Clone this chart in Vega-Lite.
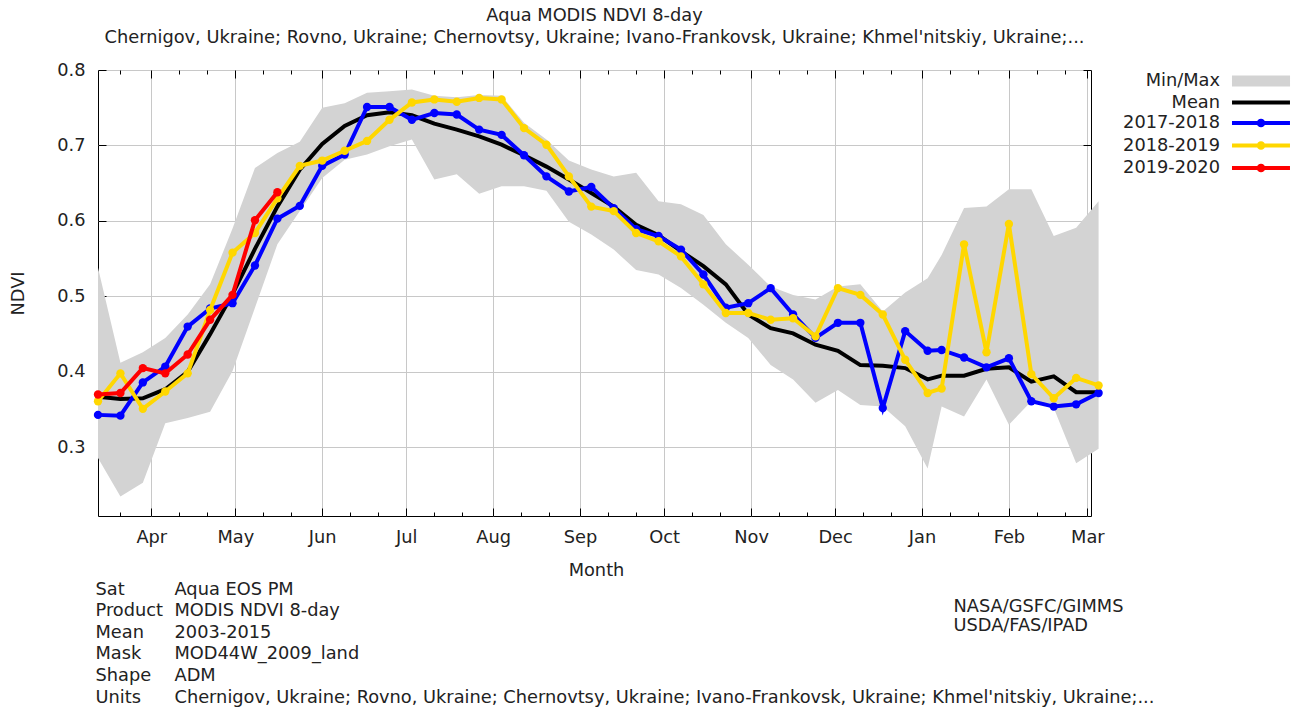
{
  "$schema": "https://vega.github.io/schema/vega-lite/v6.json",
  "width": 993,
  "height": 446,
  "autosize": "none",
  "padding": {"left": 98, "top": 70, "right": 206, "bottom": 192},
  "background": "white",
  "title": {
    "text": "Aqua MODIS NDVI 8-day",
    "subtitle": "Chernigov, Ukraine; Rovno, Ukraine; Chernovtsy, Ukraine; Ivano-Frankovsk, Ukraine; Khmel'nitskiy, Ukraine;...",
    "font": "DejaVu Sans", "subtitleFont": "DejaVu Sans",
    "fontSize": 17.8, "subtitleFontSize": 17.8,
    "fontWeight": "normal", "color": "#222", "subtitleColor": "#222",
    "anchor": "middle", "offset": 14, "subtitlePadding": 4
  },
  "datasets": {
    "stats": [
      {"date": "2017-03-13", "lo": 0.286, "hi": 0.538, "mean": 0.367},
      {"date": "2017-03-21", "lo": 0.235, "hi": 0.412, "mean": 0.364},
      {"date": "2017-03-29", "lo": 0.253, "hi": 0.426, "mean": 0.365},
      {"date": "2017-04-06", "lo": 0.332, "hi": 0.445, "mean": 0.377},
      {"date": "2017-04-14", "lo": 0.339, "hi": 0.476, "mean": 0.400},
      {"date": "2017-04-22", "lo": 0.347, "hi": 0.516, "mean": 0.450},
      {"date": "2017-04-30", "lo": 0.401, "hi": 0.590, "mean": 0.503},
      {"date": "2017-05-08", "lo": 0.485, "hi": 0.670, "mean": 0.563},
      {"date": "2017-05-16", "lo": 0.569, "hi": 0.690, "mean": 0.619},
      {"date": "2017-05-24", "lo": 0.613, "hi": 0.705, "mean": 0.668},
      {"date": "2017-06-01", "lo": 0.657, "hi": 0.750, "mean": 0.702},
      {"date": "2017-06-09", "lo": 0.681, "hi": 0.756, "mean": 0.726},
      {"date": "2017-06-17", "lo": 0.688, "hi": 0.770, "mean": 0.740},
      {"date": "2017-06-25", "lo": 0.699, "hi": 0.772, "mean": 0.744},
      {"date": "2017-07-03", "lo": 0.708, "hi": 0.774, "mean": 0.740},
      {"date": "2017-07-11", "lo": 0.655, "hi": 0.766, "mean": 0.729},
      {"date": "2017-07-19", "lo": 0.662, "hi": 0.764, "mean": 0.721},
      {"date": "2017-07-27", "lo": 0.636, "hi": 0.767, "mean": 0.712},
      {"date": "2017-08-04", "lo": 0.646, "hi": 0.766, "mean": 0.701},
      {"date": "2017-08-12", "lo": 0.646, "hi": 0.730, "mean": 0.687},
      {"date": "2017-08-20", "lo": 0.640, "hi": 0.708, "mean": 0.672},
      {"date": "2017-08-28", "lo": 0.599, "hi": 0.680, "mean": 0.655},
      {"date": "2017-09-05", "lo": 0.582, "hi": 0.668, "mean": 0.637},
      {"date": "2017-09-13", "lo": 0.562, "hi": 0.659, "mean": 0.619},
      {"date": "2017-09-21", "lo": 0.535, "hi": 0.664, "mean": 0.595},
      {"date": "2017-09-29", "lo": 0.529, "hi": 0.626, "mean": 0.581},
      {"date": "2017-10-07", "lo": 0.511, "hi": 0.622, "mean": 0.560},
      {"date": "2017-10-15", "lo": 0.489, "hi": 0.608, "mean": 0.540},
      {"date": "2017-10-23", "lo": 0.465, "hi": 0.569, "mean": 0.516},
      {"date": "2017-10-31", "lo": 0.445, "hi": 0.542, "mean": 0.476},
      {"date": "2017-11-08", "lo": 0.409, "hi": 0.513, "mean": 0.458},
      {"date": "2017-11-16", "lo": 0.390, "hi": 0.502, "mean": 0.451},
      {"date": "2017-11-24", "lo": 0.359, "hi": 0.496, "mean": 0.436},
      {"date": "2017-12-02", "lo": 0.376, "hi": 0.513, "mean": 0.428},
      {"date": "2017-12-10", "lo": 0.356, "hi": 0.516, "mean": 0.409},
      {"date": "2017-12-18", "lo": 0.354, "hi": 0.480, "mean": 0.408},
      {"date": "2017-12-26", "lo": 0.328, "hi": 0.505, "mean": 0.405},
      {"date": "2018-01-03", "lo": 0.272, "hi": 0.524, "mean": 0.390},
      {"date": "2018-01-08", "lo": 0.354, "hi": 0.555, "mean": 0.395},
      {"date": "2018-01-16", "lo": 0.341, "hi": 0.617, "mean": 0.395},
      {"date": "2018-01-24", "lo": 0.390, "hi": 0.619, "mean": 0.404},
      {"date": "2018-02-01", "lo": 0.330, "hi": 0.642, "mean": 0.406},
      {"date": "2018-02-09", "lo": 0.361, "hi": 0.642, "mean": 0.387},
      {"date": "2018-02-17", "lo": 0.352, "hi": 0.580, "mean": 0.394},
      {"date": "2018-02-25", "lo": 0.279, "hi": 0.591, "mean": 0.373},
      {"date": "2018-03-05", "lo": 0.298, "hi": 0.626, "mean": 0.373}
    ],
    "series": [
      {"date": "2017-03-13", "season": "2017-2018", "ndvi": 0.343},
      {"date": "2017-03-21", "season": "2017-2018", "ndvi": 0.342},
      {"date": "2017-03-29", "season": "2017-2018", "ndvi": 0.386},
      {"date": "2017-04-06", "season": "2017-2018", "ndvi": 0.407},
      {"date": "2017-04-14", "season": "2017-2018", "ndvi": 0.460},
      {"date": "2017-04-22", "season": "2017-2018", "ndvi": 0.484},
      {"date": "2017-04-30", "season": "2017-2018", "ndvi": 0.491},
      {"date": "2017-05-08", "season": "2017-2018", "ndvi": 0.541},
      {"date": "2017-05-16", "season": "2017-2018", "ndvi": 0.603},
      {"date": "2017-05-24", "season": "2017-2018", "ndvi": 0.620},
      {"date": "2017-06-01", "season": "2017-2018", "ndvi": 0.673},
      {"date": "2017-06-09", "season": "2017-2018", "ndvi": 0.688},
      {"date": "2017-06-17", "season": "2017-2018", "ndvi": 0.751},
      {"date": "2017-06-25", "season": "2017-2018", "ndvi": 0.751},
      {"date": "2017-07-03", "season": "2017-2018", "ndvi": 0.734},
      {"date": "2017-07-11", "season": "2017-2018", "ndvi": 0.743},
      {"date": "2017-07-19", "season": "2017-2018", "ndvi": 0.741},
      {"date": "2017-07-27", "season": "2017-2018", "ndvi": 0.721},
      {"date": "2017-08-04", "season": "2017-2018", "ndvi": 0.714},
      {"date": "2017-08-12", "season": "2017-2018", "ndvi": 0.687},
      {"date": "2017-08-20", "season": "2017-2018", "ndvi": 0.659},
      {"date": "2017-08-28", "season": "2017-2018", "ndvi": 0.639},
      {"date": "2017-09-05", "season": "2017-2018", "ndvi": 0.645},
      {"date": "2017-09-13", "season": "2017-2018", "ndvi": 0.617},
      {"date": "2017-09-21", "season": "2017-2018", "ndvi": 0.589},
      {"date": "2017-09-29", "season": "2017-2018", "ndvi": 0.580},
      {"date": "2017-10-07", "season": "2017-2018", "ndvi": 0.562},
      {"date": "2017-10-15", "season": "2017-2018", "ndvi": 0.529},
      {"date": "2017-10-23", "season": "2017-2018", "ndvi": 0.485},
      {"date": "2017-10-31", "season": "2017-2018", "ndvi": 0.491},
      {"date": "2017-11-08", "season": "2017-2018", "ndvi": 0.511},
      {"date": "2017-11-16", "season": "2017-2018", "ndvi": 0.476},
      {"date": "2017-11-24", "season": "2017-2018", "ndvi": 0.445},
      {"date": "2017-12-02", "season": "2017-2018", "ndvi": 0.465},
      {"date": "2017-12-10", "season": "2017-2018", "ndvi": 0.465},
      {"date": "2017-12-18", "season": "2017-2018", "ndvi": 0.352},
      {"date": "2017-12-26", "season": "2017-2018", "ndvi": 0.454},
      {"date": "2018-01-03", "season": "2017-2018", "ndvi": 0.428},
      {"date": "2018-01-08", "season": "2017-2018", "ndvi": 0.429},
      {"date": "2018-01-16", "season": "2017-2018", "ndvi": 0.419},
      {"date": "2018-01-24", "season": "2017-2018", "ndvi": 0.406},
      {"date": "2018-02-01", "season": "2017-2018", "ndvi": 0.418},
      {"date": "2018-02-09", "season": "2017-2018", "ndvi": 0.361},
      {"date": "2018-02-17", "season": "2017-2018", "ndvi": 0.354},
      {"date": "2018-02-25", "season": "2017-2018", "ndvi": 0.357},
      {"date": "2018-03-05", "season": "2017-2018", "ndvi": 0.372},
      {"date": "2017-03-13", "season": "2018-2019", "ndvi": 0.361},
      {"date": "2017-03-21", "season": "2018-2019", "ndvi": 0.398},
      {"date": "2017-03-29", "season": "2018-2019", "ndvi": 0.351},
      {"date": "2017-04-06", "season": "2018-2019", "ndvi": 0.374},
      {"date": "2017-04-14", "season": "2018-2019", "ndvi": 0.398},
      {"date": "2017-04-22", "season": "2018-2019", "ndvi": 0.482},
      {"date": "2017-04-30", "season": "2018-2019", "ndvi": 0.558},
      {"date": "2017-05-08", "season": "2018-2019", "ndvi": 0.584},
      {"date": "2017-05-16", "season": "2018-2019", "ndvi": 0.630},
      {"date": "2017-05-24", "season": "2018-2019", "ndvi": 0.673},
      {"date": "2017-06-01", "season": "2018-2019", "ndvi": 0.680},
      {"date": "2017-06-09", "season": "2018-2019", "ndvi": 0.693},
      {"date": "2017-06-17", "season": "2018-2019", "ndvi": 0.706},
      {"date": "2017-06-25", "season": "2018-2019", "ndvi": 0.734},
      {"date": "2017-07-03", "season": "2018-2019", "ndvi": 0.757},
      {"date": "2017-07-11", "season": "2018-2019", "ndvi": 0.761},
      {"date": "2017-07-19", "season": "2018-2019", "ndvi": 0.758},
      {"date": "2017-07-27", "season": "2018-2019", "ndvi": 0.763},
      {"date": "2017-08-04", "season": "2018-2019", "ndvi": 0.761},
      {"date": "2017-08-12", "season": "2018-2019", "ndvi": 0.723},
      {"date": "2017-08-20", "season": "2018-2019", "ndvi": 0.701},
      {"date": "2017-08-28", "season": "2018-2019", "ndvi": 0.659},
      {"date": "2017-09-05", "season": "2018-2019", "ndvi": 0.619},
      {"date": "2017-09-13", "season": "2018-2019", "ndvi": 0.613},
      {"date": "2017-09-21", "season": "2018-2019", "ndvi": 0.584},
      {"date": "2017-09-29", "season": "2018-2019", "ndvi": 0.573},
      {"date": "2017-10-07", "season": "2018-2019", "ndvi": 0.553},
      {"date": "2017-10-15", "season": "2018-2019", "ndvi": 0.516},
      {"date": "2017-10-23", "season": "2018-2019", "ndvi": 0.478},
      {"date": "2017-10-31", "season": "2018-2019", "ndvi": 0.478},
      {"date": "2017-11-08", "season": "2018-2019", "ndvi": 0.469},
      {"date": "2017-11-16", "season": "2018-2019", "ndvi": 0.471},
      {"date": "2017-11-24", "season": "2018-2019", "ndvi": 0.447},
      {"date": "2017-12-02", "season": "2018-2019", "ndvi": 0.511},
      {"date": "2017-12-10", "season": "2018-2019", "ndvi": 0.502},
      {"date": "2017-12-18", "season": "2018-2019", "ndvi": 0.476},
      {"date": "2017-12-26", "season": "2018-2019", "ndvi": 0.416},
      {"date": "2018-01-03", "season": "2018-2019", "ndvi": 0.372},
      {"date": "2018-01-08", "season": "2018-2019", "ndvi": 0.378},
      {"date": "2018-01-16", "season": "2018-2019", "ndvi": 0.569},
      {"date": "2018-01-24", "season": "2018-2019", "ndvi": 0.426},
      {"date": "2018-02-01", "season": "2018-2019", "ndvi": 0.596},
      {"date": "2018-02-09", "season": "2018-2019", "ndvi": 0.397},
      {"date": "2018-02-17", "season": "2018-2019", "ndvi": 0.365},
      {"date": "2018-02-25", "season": "2018-2019", "ndvi": 0.392},
      {"date": "2018-03-05", "season": "2018-2019", "ndvi": 0.382},
      {"date": "2017-03-13", "season": "2019-2020", "ndvi": 0.370},
      {"date": "2017-03-21", "season": "2019-2020", "ndvi": 0.372},
      {"date": "2017-03-29", "season": "2019-2020", "ndvi": 0.405},
      {"date": "2017-04-06", "season": "2019-2020", "ndvi": 0.398},
      {"date": "2017-04-14", "season": "2019-2020", "ndvi": 0.423},
      {"date": "2017-04-22", "season": "2019-2020", "ndvi": 0.469},
      {"date": "2017-04-30", "season": "2019-2020", "ndvi": 0.502},
      {"date": "2017-05-08", "season": "2019-2020", "ndvi": 0.601},
      {"date": "2017-05-16", "season": "2019-2020", "ndvi": 0.638}
    ]
  },
  "layer": [
    {
      "data": {"name": "stats"},
      "mark": {"type": "area"},
      "encoding": {
        "x": {"field": "date", "type": "temporal",
          "scale": {"type": "utc", "domain": [{"year": 2017, "month": 3, "date": 13, "utc": true}, {"year": 2018, "month": 3, "date": 2, "hours": 7, "utc": true}], "nice": false},
          "axis": {"orient": "bottom",
            "values": [{"year": 2017, "month": 4, "date": 1, "utc": true}, {"year": 2017, "month": 5, "date": 1, "utc": true}, {"year": 2017, "month": 6, "date": 1, "utc": true}, {"year": 2017, "month": 7, "date": 1, "utc": true}, {"year": 2017, "month": 8, "date": 1, "utc": true}, {"year": 2017, "month": 9, "date": 1, "utc": true}, {"year": 2017, "month": 10, "date": 1, "utc": true}, {"year": 2017, "month": 11, "date": 1, "utc": true}, {"year": 2017, "month": 12, "date": 1, "utc": true}, {"year": 2018, "month": 1, "date": 1, "utc": true}, {"year": 2018, "month": 2, "date": 1, "utc": true}, {"year": 2018, "month": 3, "date": 1, "utc": true}],
            "format": "%b", "tickSize": -8, "labelPadding": 20, "labelBaseline": "top",
            "labelFlush": false, "labelOverlap": false, "grid": true, "domain": false,
            "title": "Month", "titleX": 498, "titleY": 54, "titleAlign": "center", "titleBaseline": "middle", "titleAngle": 0}},
        "y": {"field": "lo", "type": "quantitative",
          "scale": {"domain": [0.209, 0.8], "nice": false, "zero": false},
          "axis": {"orient": "left", "values": [0.3, 0.4, 0.5, 0.6, 0.7, 0.8], "format": ".1f",
            "tickSize": -8, "labelPadding": 21, "labelFlush": false, "grid": true, "domain": false,
            "title": "NDVI", "titleX": -80, "titleY": 223, "titleAngle": 270, "titleAlign": "center", "titleBaseline": "middle"}},
        "y2": {"field": "hi"},
        "color": {"datum": "Min/Max", "type": "nominal",
          "scale": {"domain": ["Min/Max", "Mean", "2017-2018", "2018-2019", "2019-2020"], "range": ["#d3d3d3", "#000000", "#0000ff", "#ffd700", "#ff0000"]},
          "legend": {"title": null, "orient": "none", "legendX": 1132, "legendY": 2, "padding": 0,
            "symbolSize": 196, "symbolStrokeWidth": 4, "symbolOffset": 22, "symbolOpacity": 1,
            "labelAlign": "right", "labelOffset": -50, "labelFontSize": 17.8, "labelFont": "DejaVu Sans", "labelColor": "#222",
            "rowPadding": 0.5,
            "encode": {"symbols": {"update": {
              "shape": {"signal": "datum.value === 'Min/Max' ? 'M-3.86,-0.5H3.86V0.5H-3.86Z' : (datum.value === 'Mean' ? 'M-4.14,0H4.14' : 'M-4.14,0H4.14M0.33,0A0.33,0.33,0,1,1,-0.33,0A0.33,0.33,0,1,1,0.33,0Z')"},
              "fill": {"scale": "color", "field": "value"},
              "stroke": {"scale": "color", "field": "value"},
              "fillOpacity": {"value": 1},
              "strokeOpacity": {"value": 1}
            }}}}}
      }
    },
    {
      "data": {"name": "stats"},
      "mark": {"type": "line", "strokeWidth": 4},
      "encoding": {
        "x": {"field": "date", "type": "temporal",
          "axis": {"orient": "top",
            "values": [{"year": 2017, "month": 4, "date": 1, "utc": true}, {"year": 2017, "month": 5, "date": 1, "utc": true}, {"year": 2017, "month": 6, "date": 1, "utc": true}, {"year": 2017, "month": 7, "date": 1, "utc": true}, {"year": 2017, "month": 8, "date": 1, "utc": true}, {"year": 2017, "month": 9, "date": 1, "utc": true}, {"year": 2017, "month": 10, "date": 1, "utc": true}, {"year": 2017, "month": 11, "date": 1, "utc": true}, {"year": 2017, "month": 12, "date": 1, "utc": true}, {"year": 2018, "month": 1, "date": 1, "utc": true}, {"year": 2018, "month": 2, "date": 1, "utc": true}, {"year": 2018, "month": 3, "date": 1, "utc": true}],
            "tickSize": -8, "labels": false, "grid": false, "domain": false, "title": null}},
        "y": {"field": "mean", "type": "quantitative",
          "axis": {"orient": "right", "values": [0.3, 0.4, 0.5, 0.6, 0.7, 0.8], "tickSize": -8, "labels": false, "grid": false, "domain": false, "title": null}},
        "color": {"datum": "Mean", "type": "nominal",
          "legend": {"title": null, "orient": "none", "legendX": 1132, "legendY": 2, "padding": 0,
            "symbolSize": 196, "symbolStrokeWidth": 4, "symbolOffset": 22, "symbolOpacity": 1,
            "labelAlign": "right", "labelOffset": -50, "labelFontSize": 17.8, "labelFont": "DejaVu Sans", "labelColor": "#222",
            "rowPadding": 0.5,
            "encode": {"symbols": {"update": {
              "shape": {"signal": "datum.value === 'Min/Max' ? 'M-3.86,-0.5H3.86V0.5H-3.86Z' : (datum.value === 'Mean' ? 'M-4.14,0H4.14' : 'M-4.14,0H4.14M0.33,0A0.33,0.33,0,1,1,-0.33,0A0.33,0.33,0,1,1,0.33,0Z')"},
              "fill": {"scale": "color", "field": "value"},
              "stroke": {"scale": "color", "field": "value"},
              "fillOpacity": {"value": 1},
              "strokeOpacity": {"value": 1}
            }}}}}
      }
    },
    {
      "data": {"name": "series"},
      "transform": [{"filter": "datum.season === '2017-2018'"}],
      "mark": {"type": "line", "strokeWidth": 4, "point": {"filled": true, "size": 70}},
      "encoding": {
        "x": {"field": "date", "type": "temporal",
          "axis": {"orient": "bottom",
            "values": [{"year": 2017, "month": 3, "date": 21, "utc": true}, {"year": 2017, "month": 4, "date": 11, "utc": true}, {"year": 2017, "month": 4, "date": 21, "utc": true}, {"year": 2017, "month": 5, "date": 11, "utc": true}, {"year": 2017, "month": 5, "date": 21, "utc": true}, {"year": 2017, "month": 6, "date": 11, "utc": true}, {"year": 2017, "month": 6, "date": 21, "utc": true}, {"year": 2017, "month": 7, "date": 11, "utc": true}, {"year": 2017, "month": 7, "date": 21, "utc": true}, {"year": 2017, "month": 8, "date": 11, "utc": true}, {"year": 2017, "month": 8, "date": 21, "utc": true}, {"year": 2017, "month": 9, "date": 11, "utc": true}, {"year": 2017, "month": 9, "date": 21, "utc": true}, {"year": 2017, "month": 10, "date": 11, "utc": true}, {"year": 2017, "month": 10, "date": 21, "utc": true}, {"year": 2017, "month": 11, "date": 11, "utc": true}, {"year": 2017, "month": 11, "date": 21, "utc": true}, {"year": 2017, "month": 12, "date": 11, "utc": true}, {"year": 2017, "month": 12, "date": 21, "utc": true}, {"year": 2018, "month": 1, "date": 11, "utc": true}, {"year": 2018, "month": 1, "date": 21, "utc": true}, {"year": 2018, "month": 2, "date": 11, "utc": true}, {"year": 2018, "month": 2, "date": 21, "utc": true}],
            "tickSize": -4, "labels": false, "grid": false, "domain": false,
            "title": ["Sat", "Product", "Mean", "Mask", "Shape", "Units"],
            "titleX": -3, "titleY": 64, "titleAlign": "left", "titleBaseline": "top", "titleAngle": 0, "titleLineHeight": 21.6, "titleLimit": 2000}},
        "y": {"field": "ndvi", "type": "quantitative", "axis": null},
        "color": {"field": "season", "type": "nominal",
          "legend": {"title": null, "orient": "none", "legendX": 1132, "legendY": 2, "padding": 0,
            "symbolSize": 196, "symbolStrokeWidth": 4, "symbolOffset": 22, "symbolOpacity": 1,
            "labelAlign": "right", "labelOffset": -50, "labelFontSize": 17.8, "labelFont": "DejaVu Sans", "labelColor": "#222",
            "rowPadding": 0.5,
            "encode": {"symbols": {"update": {
              "shape": {"signal": "datum.value === 'Min/Max' ? 'M-3.86,-0.5H3.86V0.5H-3.86Z' : (datum.value === 'Mean' ? 'M-4.14,0H4.14' : 'M-4.14,0H4.14M0.33,0A0.33,0.33,0,1,1,-0.33,0A0.33,0.33,0,1,1,0.33,0Z')"},
              "fill": {"scale": "color", "field": "value"},
              "stroke": {"scale": "color", "field": "value"},
              "fillOpacity": {"value": 1},
              "strokeOpacity": {"value": 1}
            }}}}}
      }
    },
    {
      "data": {"name": "series"},
      "transform": [{"filter": "datum.season === '2018-2019'"}],
      "mark": {"type": "line", "strokeWidth": 4, "point": {"filled": true, "size": 70}},
      "encoding": {
        "x": {"field": "date", "type": "temporal",
          "axis": {"orient": "top",
            "values": [{"year": 2017, "month": 3, "date": 21, "utc": true}, {"year": 2017, "month": 4, "date": 11, "utc": true}, {"year": 2017, "month": 4, "date": 21, "utc": true}, {"year": 2017, "month": 5, "date": 11, "utc": true}, {"year": 2017, "month": 5, "date": 21, "utc": true}, {"year": 2017, "month": 6, "date": 11, "utc": true}, {"year": 2017, "month": 6, "date": 21, "utc": true}, {"year": 2017, "month": 7, "date": 11, "utc": true}, {"year": 2017, "month": 7, "date": 21, "utc": true}, {"year": 2017, "month": 8, "date": 11, "utc": true}, {"year": 2017, "month": 8, "date": 21, "utc": true}, {"year": 2017, "month": 9, "date": 11, "utc": true}, {"year": 2017, "month": 9, "date": 21, "utc": true}, {"year": 2017, "month": 10, "date": 11, "utc": true}, {"year": 2017, "month": 10, "date": 21, "utc": true}, {"year": 2017, "month": 11, "date": 11, "utc": true}, {"year": 2017, "month": 11, "date": 21, "utc": true}, {"year": 2017, "month": 12, "date": 11, "utc": true}, {"year": 2017, "month": 12, "date": 21, "utc": true}, {"year": 2018, "month": 1, "date": 11, "utc": true}, {"year": 2018, "month": 1, "date": 21, "utc": true}, {"year": 2018, "month": 2, "date": 11, "utc": true}, {"year": 2018, "month": 2, "date": 21, "utc": true}],
            "tickSize": -4, "labels": false, "grid": false, "domain": false,
            "title": ["Aqua EOS PM", "MODIS NDVI 8-day", "2003-2015", "MOD44W_2009_land", "ADM", "Chernigov, Ukraine; Rovno, Ukraine; Chernovtsy, Ukraine; Ivano-Frankovsk, Ukraine; Khmel'nitskiy, Ukraine;..."],
            "titleX": 76, "titleY": 510, "titleAlign": "left", "titleBaseline": "top", "titleAngle": 0, "titleLineHeight": 21.6, "titleLimit": 2000}},
        "y": {"field": "ndvi", "type": "quantitative", "axis": null},
        "color": {"field": "season", "type": "nominal",
          "legend": {"title": null, "orient": "none", "legendX": 1132, "legendY": 2, "padding": 0,
            "symbolSize": 196, "symbolStrokeWidth": 4, "symbolOffset": 22, "symbolOpacity": 1,
            "labelAlign": "right", "labelOffset": -50, "labelFontSize": 17.8, "labelFont": "DejaVu Sans", "labelColor": "#222",
            "rowPadding": 0.5,
            "encode": {"symbols": {"update": {
              "shape": {"signal": "datum.value === 'Min/Max' ? 'M-3.86,-0.5H3.86V0.5H-3.86Z' : (datum.value === 'Mean' ? 'M-4.14,0H4.14' : 'M-4.14,0H4.14M0.33,0A0.33,0.33,0,1,1,-0.33,0A0.33,0.33,0,1,1,0.33,0Z')"},
              "fill": {"scale": "color", "field": "value"},
              "stroke": {"scale": "color", "field": "value"},
              "fillOpacity": {"value": 1},
              "strokeOpacity": {"value": 1}
            }}}}}
      }
    },
    {
      "data": {"name": "series"},
      "transform": [{"filter": "datum.season === '2019-2020'"}],
      "mark": {"type": "line", "strokeWidth": 4, "point": {"filled": true, "size": 70}},
      "encoding": {
        "x": {"field": "date", "type": "temporal",
          "axis": {"orient": "bottom", "ticks": false, "labels": false, "grid": false, "domain": false,
            "title": ["NASA/GSFC/GIMMS", "USDA/FAS/IPAD"],
            "titleX": 855, "titleY": 81, "titleAlign": "left", "titleBaseline": "top", "titleAngle": 0, "titleLineHeight": 19, "titleLimit": 1000}},
        "y": {"field": "ndvi", "type": "quantitative", "axis": null},
        "color": {"field": "season", "type": "nominal",
          "legend": {"title": null, "orient": "none", "legendX": 1132, "legendY": 2, "padding": 0,
            "symbolSize": 196, "symbolStrokeWidth": 4, "symbolOffset": 22, "symbolOpacity": 1,
            "labelAlign": "right", "labelOffset": -50, "labelFontSize": 17.8, "labelFont": "DejaVu Sans", "labelColor": "#222",
            "rowPadding": 0.5,
            "encode": {"symbols": {"update": {
              "shape": {"signal": "datum.value === 'Min/Max' ? 'M-3.86,-0.5H3.86V0.5H-3.86Z' : (datum.value === 'Mean' ? 'M-4.14,0H4.14' : 'M-4.14,0H4.14M0.33,0A0.33,0.33,0,1,1,-0.33,0A0.33,0.33,0,1,1,0.33,0Z')"},
              "fill": {"scale": "color", "field": "value"},
              "stroke": {"scale": "color", "field": "value"},
              "fillOpacity": {"value": 1},
              "strokeOpacity": {"value": 1}
            }}}}}
      }
    }
  ],
  "resolve": {"axis": {"x": "independent", "y": "independent"}},
  "config": {
    "view": {"stroke": "#000000", "strokeWidth": 1},
    "axis": {
      "labelFont": "DejaVu Sans", "labelFontSize": 17.8, "labelColor": "#222",
      "titleFont": "DejaVu Sans", "titleFontSize": 17.8, "titleFontWeight": "normal", "titleColor": "#222",
      "tickColor": "#000000", "tickWidth": 1, "gridColor": "#c8c8c8", "gridWidth": 1, "gridOpacity": 1
    }
  }
}
